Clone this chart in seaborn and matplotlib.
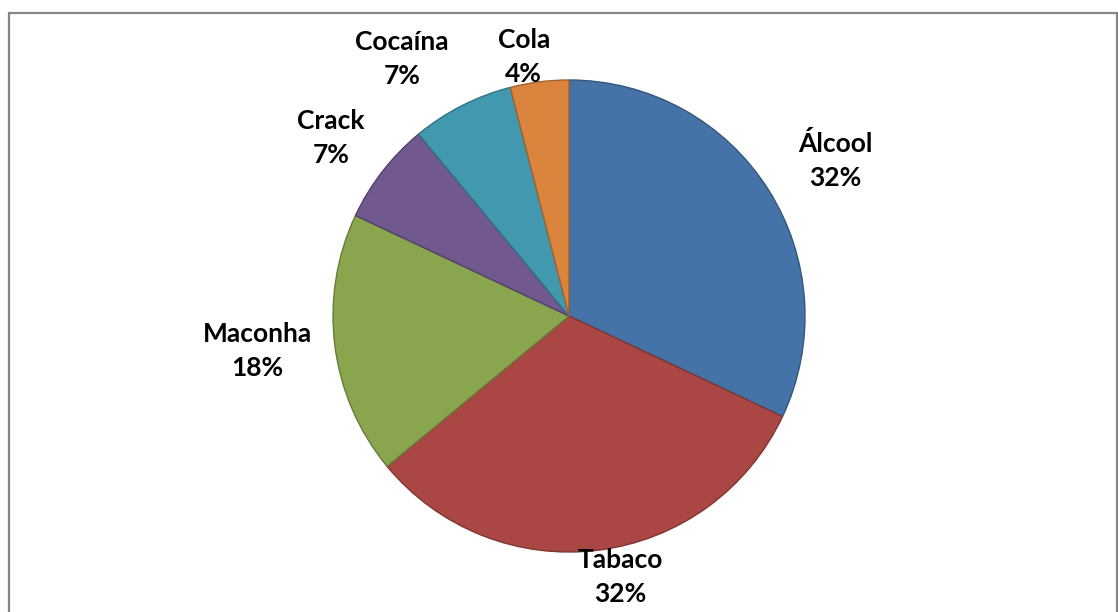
import numpy as np
import matplotlib
matplotlib.use("Agg")
import matplotlib.pyplot as plt
import seaborn as sns
from matplotlib.patches import Rectangle

# ---- data ----
categories = ["Álcool", "Tabaco", "Maconha", "Crack", "Cocaína", "Cola"]
values = [32, 32, 18, 7, 7, 4]
colors = ["#4572A7", "#AA4643", "#89A54E", "#71588F", "#4198AF", "#DB843D"]

sns.set_theme(style="white")
plt.rcParams['font.family'] = ['Lato', 'DejaVu Sans']

W, H = 1118, 612
fig = plt.figure(figsize=(W / 100, H / 100), dpi=100)
ax = fig.add_axes([0, 0, 1, 1])

cx, cy, R = 569, H - 316, 236

def darker(c, f=0.75):
    r, g, b = matplotlib.colors.to_rgb(c)
    return (r * f, g * f, b * f)

wedges, _ = ax.pie(values, colors=colors, startangle=90, counterclock=False,
                   center=(cx, cy), radius=R,
                   wedgeprops=dict(linewidth=1.0))
for w, c in zip(wedges, colors):
    w.set_edgecolor(darker(c))

ax.set_xlim(0, W)
ax.set_ylim(0, H)
ax.set_aspect('auto')
ax.axis('off')

# label placement (radial distance factor, angular nudge) - Excel "best fit" look
label_r = [1.306, 1.127, 1.328, 1.26, 1.30, 1.114]
label_shift = [2.0, -3.9, 0.8, -1.0, -6.0, -2.7]
total = sum(values)
start = 90.0
for name, v, f, s in zip(categories, values, label_r, label_shift):
    span = 360.0 * v / total
    mid = np.deg2rad(start - span / 2 - s)
    start -= span
    x = cx + R * f * np.cos(mid)
    y = cy + R * f * np.sin(mid)
    ax.text(x, y, f"{name}\n{round(100 * v / total)}%", ha='center', va='center',
            fontsize=19, fontweight='bold', color='black', linespacing=1.5)

# chart border
ax.add_patch(Rectangle((9, -20), 1108, H - 13 + 20, fill=False,
                       edgecolor='#878787', linewidth=1.6, clip_on=False))

fig.savefig("out.png", dpi=100, facecolor='white')
